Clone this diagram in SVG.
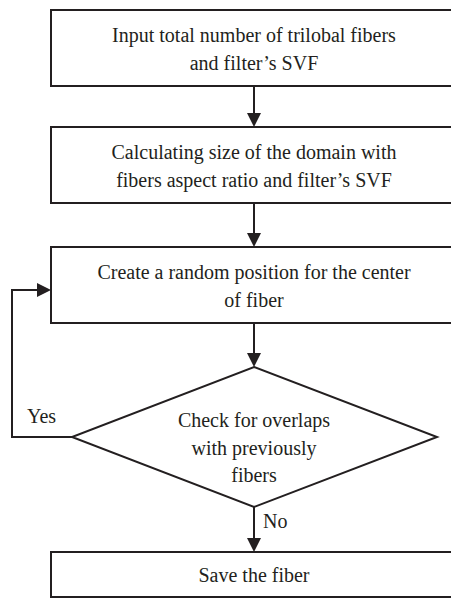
<svg xmlns="http://www.w3.org/2000/svg" width="451" height="598" viewBox="0 0 451 598" font-family="Liberation Serif, serif" font-size="20">
<style>
.box{fill:#fff;stroke:#231f20;stroke-width:2}
.ln{fill:none;stroke:#231f20;stroke-width:2}
.ah{fill:#231f20;stroke:none}
text{font-family:"Liberation Serif",serif;font-size:20px;fill:#231f20}
.c{text-anchor:middle}
</style>
<rect width="451" height="598" fill="#fff"/>
<g id="connectors">
<line class="ln" x1="254" y1="86" x2="254" y2="114"/>
<polygon class="ah" points="247,113 261,113 254,127"/>
<line class="ln" x1="254" y1="203" x2="254" y2="234"/>
<polygon class="ah" points="247,233 261,233 254,247"/>
<line class="ln" x1="254" y1="323" x2="254" y2="354"/>
<polygon class="ah" points="247,353 261,353 254,367"/>
<polyline class="ln" points="72,437 12,437 12,290 38,290"/>
<polygon class="ah" points="37,283 37,297 51,290"/>
<line class="ln" x1="254" y1="507" x2="254" y2="539"/>
<polygon class="ah" points="247,538 261,538 254,552"/>
<text x="27" y="423">Yes</text>
<text x="263" y="528">No</text>
</g>
<g id="n1">
<rect class="box" x="51" y="10" width="406" height="76"/>
<text class="c" x="254" y="42">Input total number of trilobal fibers</text>
<text class="c" x="254" y="70">and filter’s SVF</text>
</g>
<g id="n2">
<rect class="box" x="51" y="127" width="406" height="76"/>
<text class="c" x="254" y="159">Calculating size of the domain with</text>
<text class="c" x="254" y="187">fibers aspect ratio and filter’s SVF</text>
</g>
<g id="n3">
<rect class="box" x="51" y="247" width="406" height="76"/>
<text class="c" x="254" y="279">Create a random position for the center</text>
<text class="c" x="254" y="307">of fiber</text>
</g>
<g id="n4">
<polygon class="box" points="254,367 437,437 254,507 72,437"/>
<text class="c" x="254" y="427">Check for overlaps</text>
<text class="c" x="254" y="455">with previously</text>
<text class="c" x="254" y="482">fibers</text>
</g>
<g id="n5">
<rect class="box" x="51" y="552" width="406" height="45"/>
<text class="c" x="254" y="582">Save the fiber</text>
</g>
</svg>
